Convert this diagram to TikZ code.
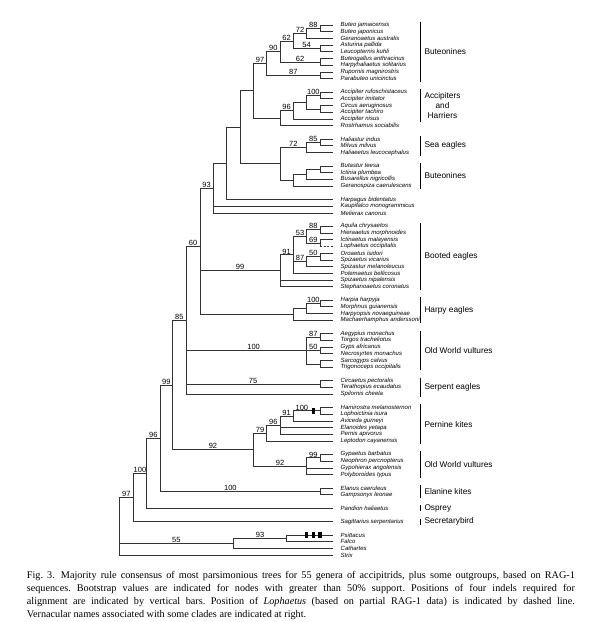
\documentclass[tikz,border=0pt]{standalone}
\usepackage{fontspec}
\setmainfont{Liberation Serif}
\newfontfamily\arialf{Liberation Sans}
\usetikzlibrary{calc}
\tikzset{
  leaf/.style={anchor=west, font=\arialf\itshape\fontsize{6}{6}\selectfont, inner sep=0pt},
  bs/.style={anchor=south, font=\arialf\fontsize{7.5}{7.5}\selectfont, inner sep=0.5pt},
  br/.style={line width=0.7pt, draw=black!80},
  cbar/.style={line width=0.8pt, draw=black},
  clade/.style={anchor=west, font=\arialf\fontsize{8.3}{10}\selectfont, inner sep=0pt, align=center},
  indel/.style={fill=black, draw=none},
}
\newcommand\tbr[2]{\draw[br] (#1) |- (#2);}
\newcommand\bsl[4][0.5]{\node[bs] (#2-bs) at ($(#3 |- #2)!#1!(#2)$) {#4};}
\begin{document}
\begin{tikzpicture}[x=1pt,y=-1pt]
\useasboundingbox (0,0) rectangle (601,622);
\begin{scope}[y=-6.71pt,yshift=-25pt]
% leaves
\foreach \r/\t in {0/{Buteo jamaicensis},1/{Buteo japonicus},2/{Geranoaetus australis},3/{Asturina pallida},4/{Leucopternis kuhli},5/{Buteogallus anthracinus},6/{Harpyhaliaetus solitarius},7/{Rupornis magnirostris},8/{Parabuteo unicinctus},
10/{Accipiter rufoschistaceus},11/{Accipiter imitator},12/{Circus aeruginosus},13/{Accipiter tachiro},14/{Accipiter nisus},15/{Rostrhamus sociabilis},
17/{Haliastur indus},18/{Milvus milvus},19/{Haliaeetus leucocephalus},
21/{Butastur teesa},22/{Ictinia plumbea},23/{Busarellus nigricollis},24/{Geranospiza caerulescens},
26/{Harpagus bidentatus},27/{Kaupifalco monogrammicus},28/{Melierax canorus},
30/{Aquila chrysaetos},31/{Hieraaetus morphnoides},32/{Ictinaetus malayensis},33/{Lophaetus occipitalis},34/{Oroaetus isidori},35/{Spizaetus vicarius},36/{Spizastur melanoleucus},37/{Polemaetus bellicosus},38/{Spizaetus nipalensis},39/{Stephanoaetus coronatus},
41/{Harpia harpyja},42/{Morphnus guianensis},43/{Harpyopsis novaeguineae},44/{Machaerhamphus anderssoni},
46/{Aegypius monachus},47/{Torgos tracheliotus},48/{Gyps africanus},49/{Necrosyrtes monachus},50/{Sarcogyps calvus},51/{Trigonoceps occipitalis},
53/{Circaetus pectoralis},54/{Terathopius ecaudatus},55/{Spilornis cheela},
57/{Hamirostra melanosternon},58/{Lophoictinia isura},59/{Aviceda gurneyi},60/{Elanoides yetapa},61/{Pernis apivorus},62/{Leptodon cayanensis},
64/{Gypaetus barbatus},65/{Neophron percnopterus},66/{Gypohierax angolensis},67/{Polyboroides typus},
69/{Elanus caeruleus},70/{Gampsonyx leonae},72/{Pandion haliaetus},74/{Sagittarius serpentarius},
76/{Psittacus},77/{Falco},78/{Cathartes},79/{Strix}}
{ \node[leaf] (l\r) at (340.5,\r) {\t}; \coordinate (t\r) at (333,\r); }
% internal nodes
\coordinate (n88a) at (320,0.5);
\coordinate (n72a) at (306.7,1.25);
\coordinate (n54) at (320,3.5);
\coordinate (n62a) at (293.3,2.375);
\coordinate (n62b) at (320,5.5);
\coordinate (n90) at (280,3.9375);
\coordinate (n87a) at (320,7.5);
\coordinate (n97a) at (266.7,5.71875);
\coordinate (p1) at (320,10.5);
\coordinate (p2) at (320,12.5);
\coordinate (n100a) at (306.7,11.5);
\coordinate (n96a) at (293.3,12.75);
\coordinate (nacc) at (280,13.875);
\coordinate (nA) at (253.3,9.796875);
\coordinate (n85) at (320,17.5);
\coordinate (n72b) at (306.7,18.25);
\coordinate (pb) at (320,21.5);
\coordinate (pc) at (306.7,22.25);
\coordinate (pd) at (293.3,23.125);
\coordinate (nSB) at (280,20.6875);
\coordinate (n240) at (240,15.2421875);
\coordinate (n226) at (226.7,20.62109375);
\coordinate (n93) at (213.3,24.3105);
\coordinate (q88) at (320,30.5);
\coordinate (q69) at (320,32.5);
\coordinate (q53) at (306.7,31.5);
\coordinate (q50) at (320,34.5);
\coordinate (q87) at (306.7,35.25);
\coordinate (q91) at (293.3,34.25);
\coordinate (q99) at (280,36.625);
\coordinate (h100) at (320,41.5);
\coordinate (h2) at (306.7,42.25);
\coordinate (h3) at (293.3,43.125);
\coordinate (n60) at (200,33.0);
\coordinate (v87) at (320,46.5);
\coordinate (v50) at (320,48.5);
\coordinate (v3) at (320,50.5);
\coordinate (v100) at (306.7,48.5);
\coordinate (s75) at (320,53.5);
\coordinate (n85b) at (186,44);
\coordinate (k100) at (320,57.5);
\coordinate (k91) at (293.3,58.25);
\coordinate (k96) at (280,59.625);
\coordinate (k79) at (266.7,60.8125);
\coordinate (g99) at (320,64.5);
\coordinate (g92) at (306.7,65.75);
\coordinate (n92) at (253.3,63.28125);
\coordinate (n99) at (172.7,53.640625);
\coordinate (e100) at (320,69.5);
\coordinate (n96) at (160,61.5703);
\coordinate (n100) at (146.7,66.7852);
\coordinate (n97) at (133.3,70.3926);
\coordinate (o93) at (286.7,76.5);
\coordinate (o55) at (233.3,77.25);
\coordinate (root) at (119.3,74.6963);
% connectors
\tbr{n88a}{t0}\tbr{n88a}{t1}
\tbr{n72a}{n88a}\tbr{n72a}{t2}
\tbr{n54}{t3}\tbr{n54}{t4}
\tbr{n62a}{n72a}\tbr{n62a}{n54}
\tbr{n62b}{t5}\tbr{n62b}{t6}
\tbr{n90}{n62a}\tbr{n90}{n62b}
\tbr{n87a}{t7}\tbr{n87a}{t8}
\tbr{n97a}{n90}\tbr{n97a}{n87a}
\tbr{p1}{t10}\tbr{p1}{t11}
\tbr{p2}{t12}\tbr{p2}{t13}
\tbr{n100a}{p1}\tbr{n100a}{p2}
\tbr{n96a}{n100a}\tbr{n96a}{t14}
\tbr{nacc}{n96a}\tbr{nacc}{t15}
\tbr{nA}{n97a}\tbr{nA}{nacc}
\tbr{n85}{t17}\tbr{n85}{t18}
\tbr{n72b}{n85}\tbr{n72b}{t19}
\tbr{pb}{t21}\tbr{pb}{t22}
\tbr{pc}{pb}\tbr{pc}{t23}
\tbr{pd}{pc}\tbr{pd}{t24}
\tbr{nSB}{n72b}\tbr{nSB}{pd}
\tbr{n240}{nA}\tbr{n240}{nSB}
\tbr{n226}{n240}\tbr{n226}{t26}
\tbr{n93}{n226}\tbr{n93}{t27}\tbr{n93}{t28}
\tbr{q88}{t30}\tbr{q88}{t31}
\tbr{q69}{t32}
\draw[br] (q69) -- (q69 |- t33);
\draw[br,dash pattern=on 2pt off 1.5pt] (q69 |- t33) -- (t33);
\tbr{q53}{q88}\tbr{q53}{q69}
\tbr{q50}{t34}\tbr{q50}{t35}
\tbr{q87}{q50}\tbr{q87}{t36}
\tbr{q91}{q53}\tbr{q91}{q87}\tbr{q91}{t37}
\tbr{q99}{q91}\tbr{q99}{t38}\tbr{q99}{t39}
\tbr{h100}{t41}\tbr{h100}{t42}
\tbr{h2}{h100}\tbr{h2}{t43}
\tbr{h3}{h2}\tbr{h3}{t44}
\tbr{n60}{n93}\tbr{n60}{q99}\tbr{n60}{h3}
\tbr{v87}{t46}\tbr{v87}{t47}
\tbr{v50}{t48}\tbr{v50}{t49}
\tbr{v3}{t50}\tbr{v3}{t51}
\tbr{v100}{v87}\tbr{v100}{v50}\tbr{v100}{v3}
\tbr{s75}{t53}\tbr{s75}{t54}
\tbr{n85b}{n60}\tbr{n85b}{v100}\tbr{n85b}{s75}\tbr{n85b}{t55}
\tbr{k100}{t57}\tbr{k100}{t58}
\tbr{k91}{k100}\tbr{k91}{t59}
\tbr{k96}{k91}\tbr{k96}{t60}\tbr{k96}{t61}
\tbr{k79}{k96}\tbr{k79}{t62}
\tbr{g99}{t64}\tbr{g99}{t65}
\tbr{g92}{g99}\tbr{g92}{t66}\tbr{g92}{t67}
\tbr{n92}{k79}\tbr{n92}{g92}
\tbr{n99}{n85b}\tbr{n99}{n92}
\tbr{e100}{t69}\tbr{e100}{t70}
\tbr{n96}{n99}\tbr{n96}{e100}
\tbr{n100}{n96}\tbr{n100}{t72}
\tbr{n97}{n100}\tbr{n97}{t74}
\tbr{o93}{t76}\tbr{o93}{t77}
\tbr{o55}{o93}\tbr{o55}{t78}
\tbr{root}{n97}\tbr{root}{o55}\tbr{root}{t79}
% indels
\fill[indel] ($(k100)+(-7.8pt,-2.8pt)$) rectangle ++(2.4pt,5.6pt);
\foreach \xx in {306.7,313.3,320}
  \fill[indel] ($(\xx,76)+(-1.6pt,-2.8pt)$) rectangle ++(3.2pt,5.6pt);
% bootstrap labels
\bsl{n88a}{n72a}{88}
\bsl{n72a}{n62a}{72}
\bsl{n54}{n62a}{54}
\bsl{n62a}{n90}{62}
\bsl{n62b}{n90}{62}
\bsl{n90}{n97a}{90}
\bsl{n87a}{n97a}{87}
\bsl{n97a}{nA}{97}
\bsl{p1}{n100a}{100}
\bsl{n96a}{nacc}{96}
\bsl{n85}{n72b}{85}
\bsl{n72b}{nSB}{72}
\bsl{n93}{n60}{93}
\bsl{n60}{n85b}{60}
\bsl{q88}{q53}{88}
\bsl{q69}{q53}{69}
\bsl{q53}{q91}{53}
\bsl{q50}{q87}{50}
\bsl{q87}{q91}{87}
\bsl{q91}{q99}{91}
\bsl{q99}{n60}{99}
\bsl{h100}{h2}{100}
\bsl{n85b}{n99}{85}
\bsl{v87}{v100}{87}
\bsl{v50}{v100}{50}
\bsl[0.56]{v100}{n85b}{100}
\bsl{s75}{n85b}{75}
\bsl{n99}{n96}{99}
\bsl[0.32]{k100}{k91}{100}
\bsl{k91}{k96}{91}
\bsl{k96}{k79}{96}
\bsl{k79}{n92}{79}
\bsl{n92}{n99}{92}
\bsl{g99}{g92}{99}
\bsl{g92}{n92}{92}
\bsl[0.44]{e100}{n96}{100}
\bsl{n96}{n100}{96}
\bsl{n100}{n97}{100}
\bsl{n97}{root}{97}
\bsl{o93}{o55}{93}
\bsl{o55}{root}{55}
% clade bars and names
\foreach \a/\b/\m/\nm/\tx in {0/8/4/c1/{Buteonines},10/14/12/c2/{Accipiters\\and\\Harriers},17/19/18/c3/{Sea eagles},21/24/22.5/c4/{Buteonines},30/39/34.5/c5/{Booted eagles},41/44/42.5/c6/{Harpy eagles},46/51/48.5/c7/{Old World vultures},53/55/54/c8/{Serpent eagles},57/62/59.5/c9/{Pernine kites},64/67/65.5/c10/{Old World vultures},69/70/69.5/c11/{Elanine kites},72/72/72/c12/{Osprey},74/74/74/c13/{Secretarybird}}
{ \draw[cbar] (420.3,\a-0.45) -- (420.3,\b+0.45);
  \node[clade] (\nm) at (424.3,\m) {\tx}; }
\end{scope}
% caption
\node[anchor=north west, text width=548pt, align=justify, inner sep=0pt, font=\fontsize{10.2}{12.9}\selectfont\frenchspacing] (cap) at (26.7,571.5)
{Fig.~3.\hspace{0.6em}Majority rule consensus of most parsimonious trees for 55 genera of accipitrids, plus some outgroups, based on RAG-1\linebreak
sequences. Bootstrap values are indicated for nodes with greater than 50\% support. Positions of four indels required for\linebreak
alignment are indicated by vertical bars. Position of \textit{Lophaetus} (based on partial RAG-1 data) is indicated by dashed line.\linebreak
Vernacular names associated with some clades are indicated at right.};
\end{tikzpicture}
\end{document}
